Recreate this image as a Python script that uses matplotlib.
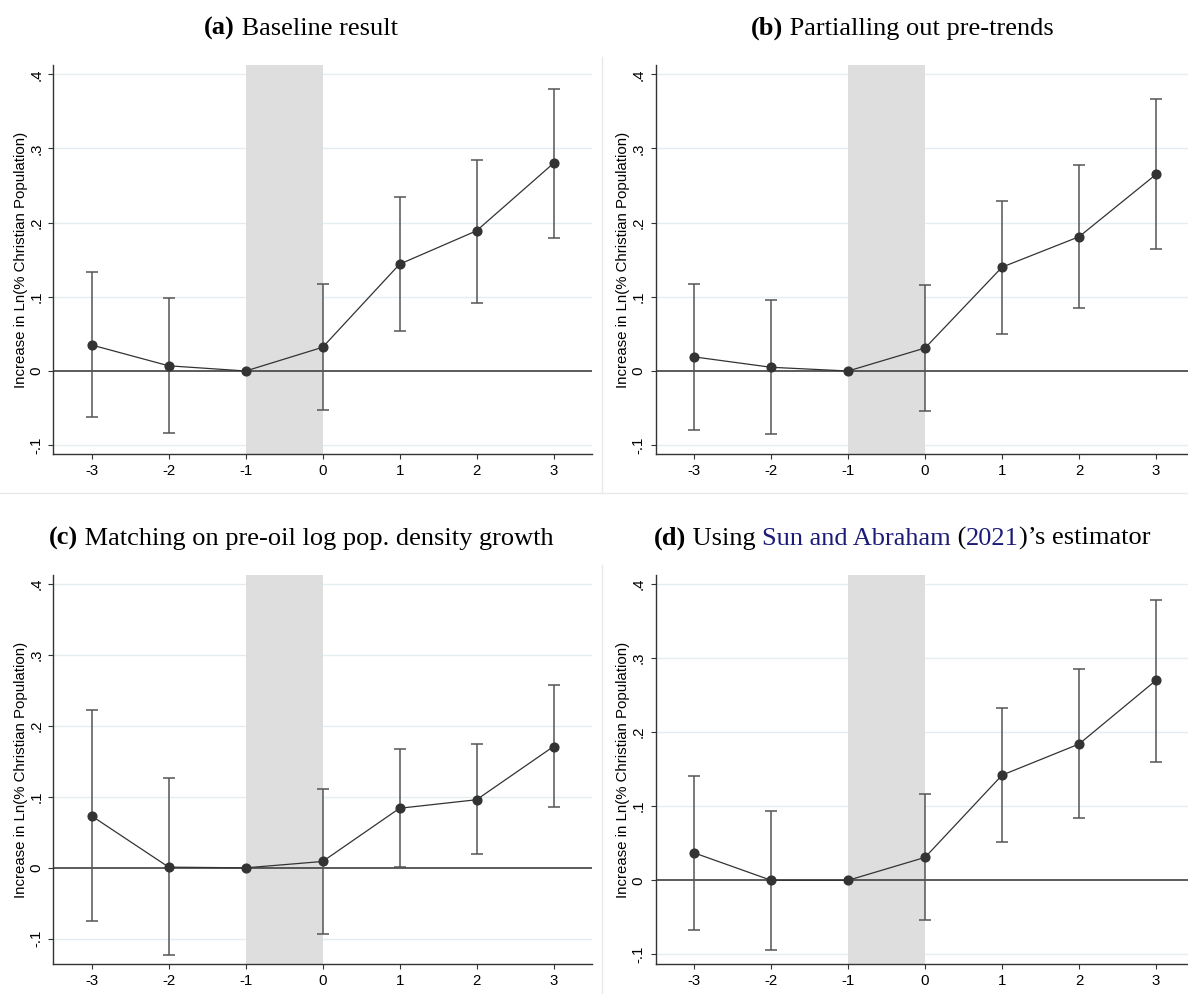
import numpy as np
import matplotlib
matplotlib.use("Agg")
import matplotlib.pyplot as plt
from matplotlib.lines import Line2D

# =========================
# DATA
# =========================

event_time = [-3, -2, -1, 0, 1, 2, 3]
nan = np.nan

coef_a = [0.035, 0.007, 0.0, 0.032, 0.144, 0.189, 0.280]
lo_a = [-0.062, -0.084, nan, -0.053, 0.054, 0.092, 0.179]
hi_a = [0.133, 0.098, nan, 0.117, 0.234, 0.285, 0.380]

coef_b = [0.019, 0.005, 0.0, 0.031, 0.140, 0.181, 0.265]
lo_b = [-0.079, -0.085, nan, -0.054, 0.050, 0.085, 0.165]
hi_b = [0.117, 0.096, nan, 0.116, 0.229, 0.278, 0.366]

coef_c = [0.073, 0.001, 0.0, 0.009, 0.084, 0.096, 0.171]
lo_c = [-0.075, -0.123, nan, -0.093, 0.001, 0.019, 0.086]
hi_c = [0.222, 0.127, nan, 0.111, 0.167, 0.175, 0.258]

coef_d = [0.037, 0.0, 0.0, 0.031, 0.142, 0.184, 0.270]
lo_d = [-0.067, -0.094, nan, -0.054, 0.052, 0.084, 0.160]
hi_d = [0.141, 0.094, nan, 0.117, 0.233, 0.285, 0.379]

y_ticks = [-0.1, 0, 0.1, 0.2, 0.3, 0.4]
y_ticklabels = ["-.1", "0", ".1", ".2", ".3", ".4"]
y_label = "Increase in Ln(% Christian Population)"

NAVY = "#1c1c78"
titles = [
    [("(a)", "bold", "black"), (" Baseline result", "normal", "black")],
    [("(b)", "bold", "black"), (" Partialling out pre-trends", "normal", "black")],
    [("(c)", "bold", "black"),
     (" Matching on pre-oil log pop. density growth", "normal", "black")],
    [("(d)", "bold", "black"), (" Using ", "normal", "black"),
     ("Sun and Abraham", "normal", NAVY), (" (", "normal", "black"),
     ("2021", "normal", NAVY), (")\u2019s estimator", "normal", "black")],
]

# =========================
# LAYOUT (pixels)
# =========================

W, H = 1188, 994
fig = plt.figure(figsize=(W / 100, H / 100), dpi=100)
fig.patch.set_facecolor("white")


def px_rect(left, top, right, bottom):
    return [left / W, 1 - bottom / H, (right - left) / W, (bottom - top) / H]


panels = [
    (px_rect(53.3, 65, 592, 454.3), (-0.1123, 0.4125), coef_a, lo_a, hi_a),
    (px_rect(655.7, 65, 1194.5, 454.3), (-0.1123, 0.4125), coef_b, lo_b, hi_b),
    (px_rect(53.3, 575, 592, 964), (-0.1355, 0.4127), coef_c, lo_c, hi_c),
    (px_rect(655.7, 575, 1194.5, 964), (-0.113, 0.4122), coef_d, lo_d, hi_d),
]
title_pos = [(301, 35), (902, 35), (301, 545), (902, 545)]

# light panel borders
sep = "#e6eaed"
fig.add_artist(Line2D([0, 1], [1 - 493 / H] * 2, color=sep, lw=1))
fig.add_artist(Line2D([602 / W] * 2, [1 - 57 / H, 1 - 493 / H], color=sep, lw=1))
fig.add_artist(Line2D([602 / W] * 2, [1 - 565 / H, 0], color=sep, lw=1))

DARK = "#333333"

for rect, ylim, coef, lo, hi in panels:
    ax = fig.add_axes(rect)
    x = np.array(event_time, dtype=float)
    c = np.array(coef)
    lo = np.array(lo)
    hi = np.array(hi)

    ax.set_xlim(-3.5, 3.5)
    ax.set_ylim(*ylim)

    # grid
    for yv in y_ticks:
        if yv != 0:
            ax.axhline(yv, color="#e4edf0", lw=1.0, zorder=0)

    # shaded window
    ax.axvspan(-1, 0, color="#dedede", lw=0, zorder=1)

    ax.axhline(0, color="#404040", lw=1.2, zorder=2)

    mask = ~np.isnan(lo)
    ax.errorbar(x[mask], c[mask],
                yerr=[c[mask] - lo[mask], hi[mask] - c[mask]],
                fmt="none", ecolor="#555555", elinewidth=1.1,
                capsize=4.5, capthick=1.1, zorder=3)
    ax.plot(x, c, color=DARK, lw=0.9, marker="o", markersize=6.3,
            markerfacecolor=DARK, markeredgecolor=DARK, zorder=4)

    for s in ["top", "right"]:
        ax.spines[s].set_visible(False)
    for s in ["left", "bottom"]:
        ax.spines[s].set_color(DARK)
        ax.spines[s].set_linewidth(1.0)

    ax.set_xticks(event_time)
    ax.set_xticklabels([str(v) for v in event_time])
    ax.set_yticks(y_ticks)
    ax.set_yticklabels(y_ticklabels)
    ax.tick_params(axis="both", direction="out", length=3.6, width=0.8,
                   color=DARK, labelsize=10.8, pad=3.5)
    ax.tick_params(axis="y", labelrotation=90)
    for lab in ax.get_yticklabels():
        lab.set_va("center")
        lab.set_ha("right")
    for lab in ax.get_xticklabels() + ax.get_yticklabels():
        lab.set_family("Liberation Sans")

    ax.set_ylabel(y_label, fontsize=10.8, family="Liberation Sans")
    ax.yaxis.set_label_coords(-0.047, 0.5)

# =========================
# TITLES (mixed bold / colour)
# =========================

renderer = fig.canvas.get_renderer()
TSIZE = 19


def text_width(s, weight):
    kw = dict(fontsize=TSIZE, fontweight=weight, family="Liberation Serif")
    t1 = fig.text(0, 0, "|" + s + "|", **kw)
    t2 = fig.text(0, 0, "||", **kw)
    w = t1.get_window_extent(renderer).width - t2.get_window_extent(renderer).width
    t1.remove()
    t2.remove()
    return w


for parts, (cx, by) in zip(titles, title_pos):
    widths = [text_width(s, wt) for s, wt, col in parts]
    xpos = cx - sum(widths) / 2
    for (s, wt, col), w in zip(parts, widths):
        fig.text(xpos / W, 1 - by / H, s, fontsize=TSIZE, fontweight=wt,
                 color=col, family="Liberation Serif", ha="left", va="baseline")
        xpos += w

fig.savefig("out.png", dpi=100, facecolor="white")
